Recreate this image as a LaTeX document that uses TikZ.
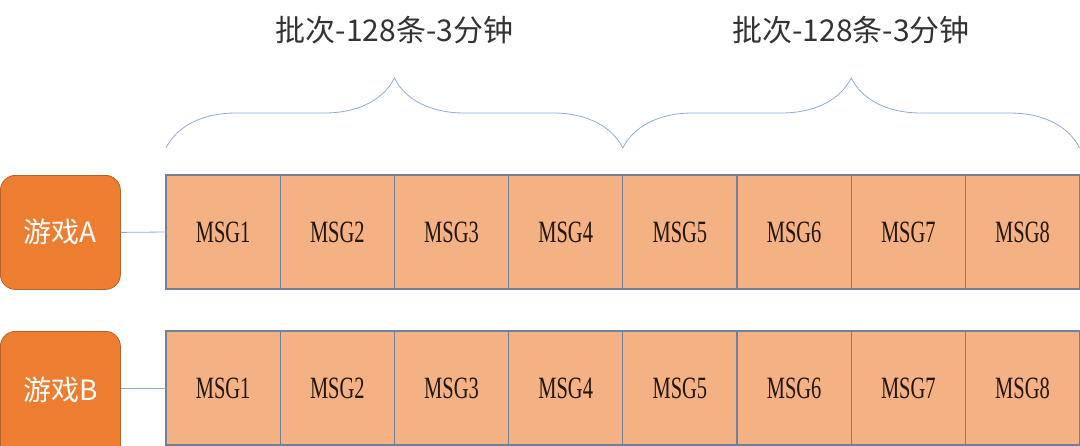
\documentclass[tikz,border=0pt]{standalone}
\usepackage{fontspec}
\newfontfamily\cjk{Noto Sans CJK SC}
\newfontfamily\msgfont[FakeStretch=0.66]{Liberation Serif}
\usetikzlibrary{positioning}
\usetikzlibrary{decorations.pathreplacing}
\definecolor{msgfill}{HTML}{F4B183}
\definecolor{msgline}{HTML}{6F8098}
\definecolor{gamefill}{HTML}{ED7D31}
\definecolor{gameline}{HTML}{B9612A}
\definecolor{linkblue}{HTML}{8EAADB}
\definecolor{titlegray}{HTML}{333333}
\definecolor{msgtext}{HTML}{22160E}

\begin{document}
\begin{tikzpicture}[x=1pt,y=-1pt,
	every msg/.style={draw=msgline,fill=msgfill,line width=1.1pt,
		minimum width=114.2pt,minimum height=114pt,inner sep=0pt,outer sep=0pt,
		font=\msgfont\fontsize{31}{33}\selectfont,text=msgtext},
	every game/.style={draw=gameline,fill=gamefill,line width=0.8pt,rounded corners=15pt,
		minimum width=120pt,minimum height=114pt,inner sep=0pt,
		font=\cjk\fontsize{28}{30}\selectfont,text=white},
	every link/.style={draw=linkblue,line width=0.8pt},
	every batch/.style={draw=linkblue,line width=0.8pt,
		decorate,decoration={brace,amplitude=70pt}},
	every title/.style={font=\cjk\fontsize{30}{32}\selectfont,text=titlegray}]
		\useasboundingbox (0,0) rectangle (1080,445);
		\clip (0,0) rectangle (1080,445);

		\node [every msg,anchor=north west] (A1) at (166,175) {MSG1};
		\node [every msg,right=0pt of A1] (A2) {MSG2};
		\node [every msg,right=0pt of A2] (A3) {MSG3};
		\node [every msg,right=0pt of A3] (A4) {MSG4};
		\node [every msg,right=0pt of A4] (A5) {MSG5};
		\node [every msg,right=0pt of A5] (A6) {MSG6};
		\node [every msg,right=0pt of A6] (A7) {MSG7};
		\node [every msg,right=0pt of A7] (A8) {MSG8};

		\node [every msg,anchor=north west] (B1) at (166,331) {MSG1};
		\node [every msg,right=0pt of B1] (B2) {MSG2};
		\node [every msg,right=0pt of B2] (B3) {MSG3};
		\node [every msg,right=0pt of B3] (B4) {MSG4};
		\node [every msg,right=0pt of B4] (B5) {MSG5};
		\node [every msg,right=0pt of B5] (B6) {MSG6};
		\node [every msg,right=0pt of B6] (B7) {MSG7};
		\node [every msg,right=0pt of B7] (B8) {MSG8};

		\node [every game,anchor=north west] (GA) at (0,175) {游戏A};
		\node [every game,anchor=north west,minimum height=130pt,text depth=16pt] (GB) at (0,331) {游戏B};

		\draw [every link] (GA.east) -- (A1.west);
		\draw [every link] (GB.east |- B1.west) -- (B1.west);

		\coordinate (S1) at ([yshift=27pt]A1.north west);
		\coordinate (S2) at ([yshift=27pt]A4.north east);
		\coordinate (S3) at ([yshift=27pt]A8.north east);
		\draw [every batch] (S1) -- (S2) node [midway,coordinate] (T1) {};
		\draw [every batch] (S2) -- (S3) node [midway,coordinate] (T2) {};

		\node [every title] at (T1 |- 0,30) {批次-128条-3分钟};
		\node [every title] at (T2 |- 0,30) {批次-128条-3分钟};
	\end{tikzpicture}
\end{document}
